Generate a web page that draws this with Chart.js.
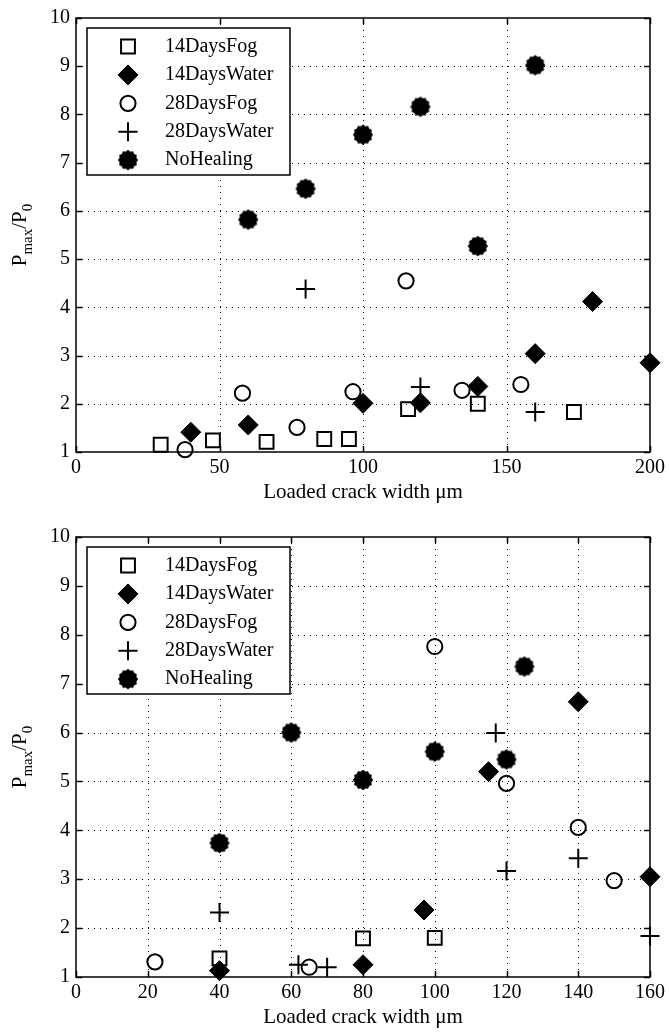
<!DOCTYPE html>
<html>
<head>
<meta charset="utf-8">
<script src="https://cdn.jsdelivr.net/npm/chart.js@4"></script>
<style>
  html, body { margin: 0; padding: 0; background: #fff; }
  .panel { position: absolute; left: 0; width: 669px; }
  #top { top: 0; height: 520px; }
  #bottom { top: 500px; height: 532px; }
</style>
</head>
<body>
<div class="panel" id="top"><canvas id="topChart" width="669" height="520"></canvas></div>
<div class="panel" id="bottom"><canvas id="bottomChart" width="669" height="532"></canvas></div>
<script>
// series names (legend order)
const seriesNames = ['14DaysFog', '14DaysWater', '28DaysFog', '28DaysWater', 'NoHealing'];

// top panel: x = loaded crack width (um), y = Pmax/P0
const topFog14X = [29.5, 47.7, 66.4, 86.5, 95.1, 115.7, 140, 173.5];
const topFog14Y = [1.15, 1.24, 1.21, 1.27, 1.27, 1.89, 2.0, 1.83];
const topWater14X = [40, 60, 100, 120, 140, 160, 180, 200];
const topWater14Y = [1.41, 1.56, 2.01, 2.02, 2.36, 3.04, 4.12, 2.85];
const topFog28X = [38, 58, 77, 96.5, 115, 134.5, 155];
const topFog28Y = [1.05, 2.22, 1.51, 2.25, 4.55, 2.28, 2.4];
const topWater28X = [80, 120, 160];
const topWater28Y = [4.38, 2.35, 1.83];
const topNoHealX = [60, 80, 100, 120, 140, 160];
const topNoHealY = [5.82, 6.46, 7.58, 8.16, 5.27, 9.02];

// bottom panel
const botFog14X = [40, 80, 100];
const botFog14Y = [1.38, 1.79, 1.8];
const botWater14X = [40, 80, 97, 115, 140, 160];
const botWater14Y = [1.13, 1.25, 2.37, 5.2, 6.63, 3.05];
const botFog28X = [22, 65, 100, 120, 140, 150];
const botFog28Y = [1.31, 1.2, 7.76, 4.96, 4.06, 2.97];
const botWater28X = [40, 62, 70, 117, 120, 140, 160];
const botWater28Y = [2.32, 1.25, 1.2, 5.99, 3.17, 3.43, 1.84];
const botNoHealX = [40, 60, 80, 100, 120, 125];
const botNoHealY = [3.74, 6.0, 5.03, 5.61, 5.45, 7.35];

// axis ranges
const yMin = 1, yMax = 10, yStep = 1;
const topXMax = 200, topXStep = 50;
const botXMax = 160, botXStep = 20;

const serif = '"Liberation Serif", "Times New Roman", serif';

// filled "blob" marker like the matlab hexagram with thick edge
function makeBlob() {
    const c = document.createElement('canvas');
    c.width = 22; c.height = 22;
    const g = c.getContext('2d');
    g.fillStyle = '#000';
    g.beginPath();
    const n = 12;
    for (let k = 0; k < 2 * n; k++) {
        const r = k % 2 ? 8.7 : 10.2;
        const a = Math.PI * k / n;
        const px = 11 + r * Math.cos(a), py = 11 + r * Math.sin(a);
        if (k === 0) g.moveTo(px, py); else g.lineTo(px, py);
    }
    g.closePath();
    g.fill();
    return c;
}
const blob = makeBlob();

const markerStyles = [
    { pointStyle: 'rect', radius: 9.8, fill: 'rgba(0,0,0,0)', width: 2 },
    { pointStyle: 'rectRot', radius: 10, fill: '#000', width: 1 },
    { pointStyle: 'circle', radius: 7.6, fill: 'rgba(0,0,0,0)', width: 2 },
    { pointStyle: 'cross', radius: 9.5, fill: 'rgba(0,0,0,0)', width: 2 },
    { pointStyle: blob, radius: 10, fill: '#000', width: 0 }
];

function toPoints(xs, ys) {
    return xs.map((x, i) => ({ x: x, y: ys[i] }));
}

// dotted grid, box and inward ticks
const framePlugin = {
    id: 'frame',
    beforeDatasetsDraw(chart) {
        const { ctx, chartArea: a, scales: { x, y } } = chart;
        ctx.save();
        ctx.strokeStyle = '#000';
        ctx.lineWidth = 1;
        ctx.setLineDash([1, 5]);
        x.ticks.forEach(t => {
            const px = Math.round(x.getPixelForValue(t.value)) + 0.5;
            if (px < a.left + 2 || px > a.right - 2) return;
            ctx.beginPath(); ctx.moveTo(px, a.top); ctx.lineTo(px, a.bottom); ctx.stroke();
        });
        y.ticks.forEach(t => {
            const py = Math.round(y.getPixelForValue(t.value)) + 0.5;
            if (py < a.top + 2 || py > a.bottom - 2) return;
            ctx.beginPath(); ctx.moveTo(a.left, py); ctx.lineTo(a.right, py); ctx.stroke();
        });
        ctx.setLineDash([]);
        ctx.lineWidth = 1.5;
        ctx.strokeRect(a.left, a.top, a.right - a.left, a.bottom - a.top);
        const tl = 6;
        ctx.beginPath();
        x.ticks.forEach(t => {
            const px = Math.round(x.getPixelForValue(t.value)) + 0.5;
            ctx.moveTo(px, a.bottom); ctx.lineTo(px, a.bottom - tl);
            ctx.moveTo(px, a.top); ctx.lineTo(px, a.top + tl);
        });
        y.ticks.forEach(t => {
            const py = Math.round(y.getPixelForValue(t.value)) + 0.5;
            ctx.moveTo(a.left, py); ctx.lineTo(a.left + tl, py);
            ctx.moveTo(a.right, py); ctx.lineTo(a.right - tl, py);
        });
        ctx.stroke();
        ctx.restore();
    }
};

// boxed legend inside the axes, top left
const legendPlugin = {
    id: 'boxLegend',
    afterDatasetsDraw(chart) {
        const { ctx, chartArea: a } = chart;
        const bx = a.left + 11, by = a.top + 10, bw = 203, bh = 147;
        ctx.save();
        ctx.fillStyle = '#fff';
        ctx.fillRect(bx, by, bw, bh);
        ctx.strokeStyle = '#000';
        ctx.lineWidth = 1.5;
        ctx.strokeRect(bx, by, bw, bh);
        chart.data.datasets.forEach((ds, i) => {
            const cy = by + 18.5 + i * 28.4;
            const st = markerStyles[i];
            ctx.fillStyle = st.fill === '#000' ? '#000' : '#fff';
            ctx.strokeStyle = '#000';
            ctx.lineWidth = st.width;
            Chart.helpers.drawPoint(ctx, { pointStyle: st.pointStyle, radius: st.radius, rotation: 0, borderWidth: st.width }, bx + 41, cy);
            ctx.fillStyle = '#000';
            ctx.font = '20px ' + serif;
            ctx.textAlign = 'left';
            ctx.textBaseline = 'middle';
            ctx.fillText(ds.label, bx + 78, cy);
        });
        ctx.restore();
    }
};

// rotated y label with subscripts: P_max / P_0
const yLabelPlugin = {
    id: 'yLabel',
    afterDraw(chart) {
        const { ctx, chartArea: a } = chart;
        const big = '21px ' + serif, small = '15px ' + serif;
        const parts = [['P', big, 0], ['max', small, 6], ['/P', big, 0], ['0', small, 6]];
        ctx.save();
        let total = 0;
        parts.forEach(p => { ctx.font = p[1]; total += ctx.measureText(p[0]).width; });
        ctx.translate(26, (a.top + a.bottom) / 2);
        ctx.rotate(-Math.PI / 2);
        ctx.fillStyle = '#000';
        ctx.textBaseline = 'alphabetic';
        ctx.textAlign = 'left';
        let cx = -total / 2;
        parts.forEach(p => {
            ctx.font = p[1];
            ctx.fillText(p[0], cx, p[2]);
            cx += ctx.measureText(p[0]).width;
        });
        ctx.restore();
    }
};

function makeChart(id, xMax, xStep, series, padTop, xAxisH, titlePad) {
    return new Chart(document.getElementById(id), {
        type: 'scatter',
        data: {
            datasets: series.map((pts, i) => ({
                label: seriesNames[i],
                data: pts,
                pointStyle: markerStyles[i].pointStyle,
                pointRadius: markerStyles[i].radius,
                pointBackgroundColor: markerStyles[i].fill,
                pointBorderColor: '#000',
                pointBorderWidth: markerStyles[i].width,
                showLine: false,
                clip: false,
                order: 5 - i
            }))
        },
        options: {
            responsive: false,
            animation: false,
            events: [],
            layout: { padding: { left: 0, right: 17, top: padTop, bottom: 0 } },
            plugins: { legend: { display: false }, tooltip: { enabled: false } },
            scales: {
                x: {
                    type: 'linear',
                    min: 0,
                    max: xMax,
                    ticks: { stepSize: xStep, color: '#000', font: { family: serif, size: 20 }, padding: 4, maxRotation: 0 },
                    grid: { display: false, drawTicks: false },
                    border: { display: false },
                    title: {
                        display: true,
                        text: 'Loaded crack width μm',
                        color: '#000',
                        font: { family: serif, size: 21 },
                        padding: { top: 0, bottom: titlePad }
                    },
                    afterFit(s) { s.height = xAxisH; }
                },
                y: {
                    type: 'linear',
                    min: yMin,
                    max: yMax,
                    ticks: { stepSize: yStep, color: '#000', font: { family: serif, size: 20 }, padding: 6 },
                    grid: { display: false, drawTicks: false },
                    border: { display: false },
                    afterFit(s) { s.width = 76; }
                }
            }
        },
        plugins: [framePlugin, legendPlugin, yLabelPlugin]
    });
}

makeChart('topChart', topXMax, topXStep, [
    toPoints(topFog14X, topFog14Y),
    toPoints(topWater14X, topWater14Y),
    toPoints(topFog28X, topFog28Y),
    toPoints(topWater28X, topWater28Y),
    toPoints(topNoHealX, topNoHealY)
], 15, 68, 15);

makeChart('bottomChart', botXMax, botXStep, [
    toPoints(botFog14X, botFog14Y),
    toPoints(botWater14X, botWater14Y),
    toPoints(botFog28X, botFog28Y),
    toPoints(botWater28X, botWater28Y),
    toPoints(botNoHealX, botNoHealY)
], 37, 55, 1.5);
</script>
</body>
</html>
